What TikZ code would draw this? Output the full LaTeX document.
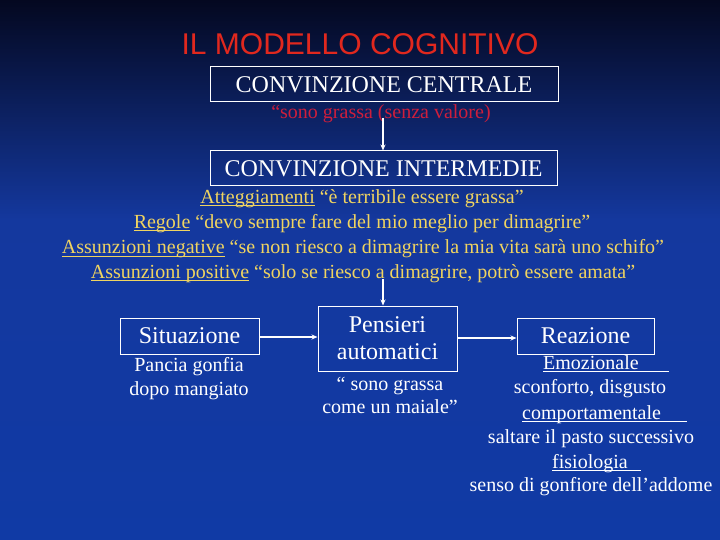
\documentclass[tikz,border=0pt]{standalone}
\usepackage{fontspec}
\setmainfont{Liberation Serif}
\newfontfamily\arialf{Liberation Sans}
\usetikzlibrary{arrows.meta}
\definecolor{bgtop}{RGB}{4,8,32}
\definecolor{bgmid}{RGB}{12,32,105}
\definecolor{bgblue}{RGB}{20,56,158}
\definecolor{bgbot}{RGB}{16,58,165}
\definecolor{ttlred}{RGB}{225,40,30}
\definecolor{qred}{RGB}{205,30,60}
\definecolor{ylw}{RGB}{240,212,96}
\newcommand\myul[1]{\setbox0\hbox{#1}\rlap{\rule[-2.4pt]{\wd0}{0.9pt}}\box0\relax}
\begin{document}
\begin{tikzpicture}[x=1pt,y=-1pt,
  box/.style={draw=white, line width=1pt, inner sep=0pt, text=white, align=center},
  bigtxt/.style={font=\fontsize{24}{24}\selectfont},
  midtxt/.style={font=\fontsize{24}{27}\selectfont},
  smalltxt/.style={font=\fontsize{20}{20}\selectfont},
  lbl/.style={text=white, inner sep=0pt, anchor=base, smalltxt},
  ylbl/.style={text=ylw, inner sep=0pt, anchor=base, smalltxt},
  arr/.style={draw=white, line width=1.6pt, -{Stealth[length=6pt,width=5pt]}}]
\useasboundingbox (0,0) rectangle (720,540);
\shade[top color=bgtop, middle color=bgmid, bottom color=bgblue] (0,0) rectangle (720,220);
\shade[top color=bgblue, bottom color=bgbot] (0,220) rectangle (720,540);

\node[text=ttlred, inner sep=0pt, font=\arialf\fontsize{30}{30}\selectfont] (title) at (360,44) {IL MODELLO COGNITIVO};

\node[box, bigtxt, minimum width=348pt, minimum height=35pt] (cc) at (384,84.5) {CONVINZIONE CENTRALE};
\node[text=qred, inner sep=0pt, anchor=base, smalltxt] (ccq) at (381,119) {``sono grassa (senza valore)};

\node[box, bigtxt, minimum width=347pt, minimum height=35pt] (ci) at (383.5,168.5) {CONVINZIONE INTERMEDIE};
\node[ylbl] (y1) at (362,204) {\myul{Atteggiamenti} ``è terribile essere grassa''};
\node[ylbl] (y2) at (362,229) {\myul{Regole} ``devo sempre fare del mio meglio per dimagrire''};
\node[ylbl] (y3) at (363,254) {\myul{Assunzioni negative} ``se non riesco a dimagrire la mia vita sarà uno schifo''};
\node[ylbl] (y4) at (363,278) {\myul{Assunzioni positive} ``solo se riesco a dimagrire, potrò essere amata''};

\node[box, midtxt, minimum width=139pt, minimum height=36pt] (sit) at (189.5,336) {Situazione};
\node[box, midtxt, minimum width=139pt, minimum height=65pt] (pen) at (387.5,338.5) {Pensieri\\automatici};
\node[box, midtxt, minimum width=137pt, minimum height=36pt] (rea) at (585.5,336) {Reazione};

\node[lbl] (s1) at (189,371) {Pancia gonfia};
\node[lbl] (s2) at (189,395) {dopo mangiato};

\node[lbl] (p1) at (390,390) {`` sono grassa};
\node[lbl] (p2) at (390,413) {come un maiale''};

\node[lbl, anchor=base west] (r1) at (543,369) {\myul{Emozionale\hspace{30pt}}};
\node[lbl] (r2) at (590,393) {sconforto, disgusto};
\node[lbl, anchor=base west] (r3) at (522,419) {\myul{comportamentale\hspace{26pt}}};
\node[lbl] (r4) at (591,443) {saltare il pasto successivo};
\node[lbl, anchor=base west] (r5) at (552,468) {\myul{fisiologia\hspace{13pt}}};
\node[lbl] (r6) at (591,491) {senso di gonfiore dell'addome};

\coordinate (a1) at (383,118);
\draw[arr] (a1) -- (a1 |- ci.north);
\coordinate (a2) at (383,279);
\draw[arr] (a2) -- (a2 |- pen.north);
\draw[arr] ([yshift=-1pt]sit.east) -- ([yshift=-1pt]sit.east -| pen.west);
\draw[arr] ([yshift=-2pt]pen.east |- rea.west) -- ([yshift=-2pt]rea.west);
\end{tikzpicture}
\end{document}
